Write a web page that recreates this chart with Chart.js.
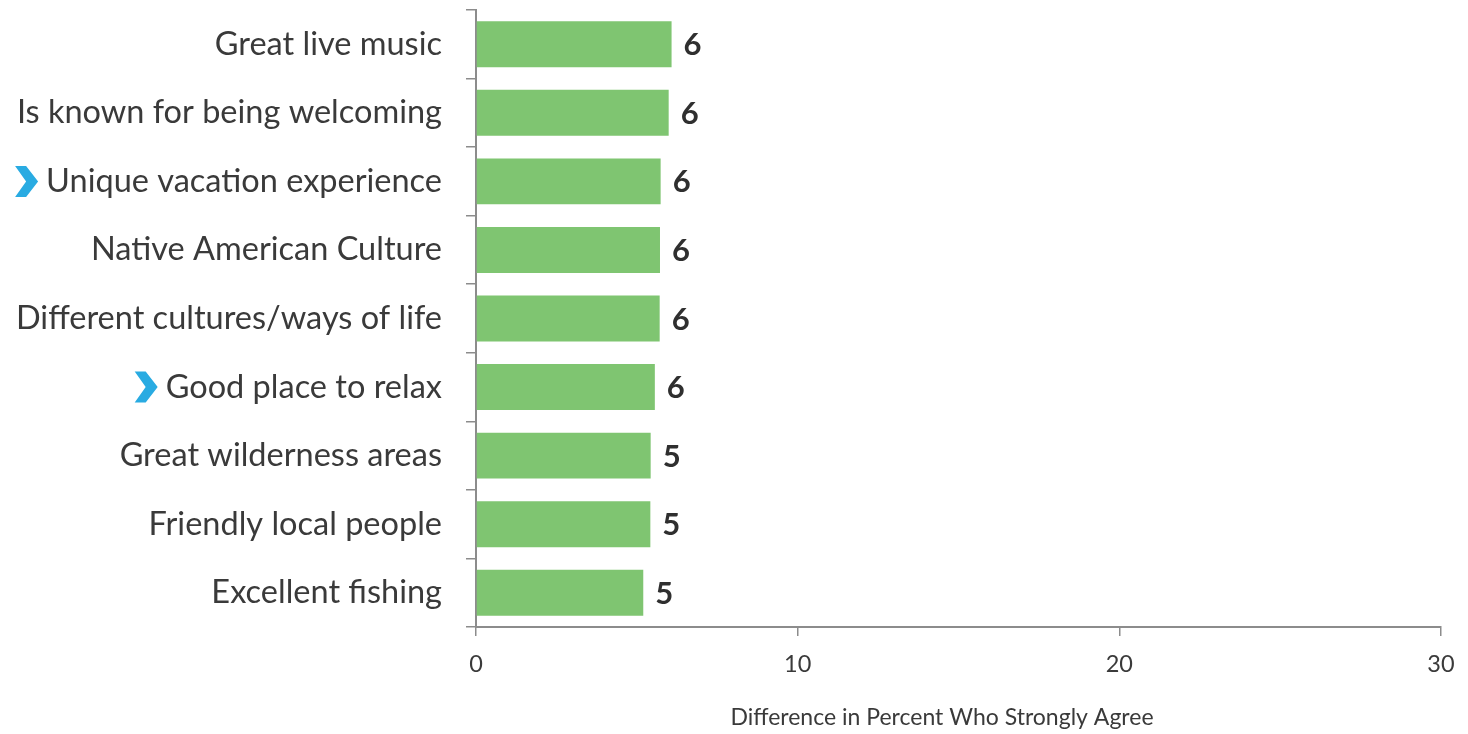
<!DOCTYPE html>
<html>
<head>
<meta charset="utf-8">
<script src="https://cdn.jsdelivr.net/npm/chart.js@4.4.1/dist/chart.umd.min.js"></script>
<style>
  html, body { margin: 0; padding: 0; background: #ffffff; }
  #wrap { width: 1468px; height: 734px; position: relative; }
</style>
</head>
<body>
<div id="wrap"><canvas id="c" width="1468" height="734"></canvas></div>
<script>
const categories = [
  'Great live music',
  'Is known for being welcoming',
  'Unique vacation experience',
  'Native American Culture',
  'Different cultures/ways of life',
  'Good place to relax',
  'Great wilderness areas',
  'Friendly local people',
  'Excellent fishing'
];
const values = [6.08, 5.99, 5.74, 5.72, 5.71, 5.56, 5.43, 5.42, 5.20];
const valueLabels = ['6', '6', '6', '6', '6', '6', '5', '5', '5'];
const highlighted = [false, false, true, false, false, true, false, false, false];
const xTicks = [0, 10, 20, 30];
const axisTitle = 'Difference in Percent Who Strongly Agree';

const FONT = 'Lato, "Open Sans", sans-serif';
const LABEL_SIZE = 32.5;
const AXIS_GRAY = '#8c8c8c';
const TEXT = '#3a3a3a';

const valueLabelPlugin = {
  id: 'valueLabels',
  afterDatasetsDraw(chart) {
    const ctx = chart.ctx;
    const meta = chart.getDatasetMeta(0);
    ctx.save();
    ctx.font = 'bold 31px ' + FONT;
    ctx.fillStyle = '#2f2f2f';
    ctx.textAlign = 'left';
    ctx.textBaseline = 'middle';
    meta.data.forEach((bar, i) => {
      ctx.fillText(valueLabels[i], bar.x + 12, bar.y + 1);
    });
    ctx.restore();
  }
};

const chevronPlugin = {
  id: 'chevrons',
  afterDraw(chart) {
    const ctx = chart.ctx;
    const yScale = chart.scales.y;
    const opts = yScale.options;
    const rightEdge = yScale.right - opts.grid.tickLength - opts.ticks.padding;
    ctx.save();
    ctx.font = LABEL_SIZE + 'px ' + FONT;
    categories.forEach((label, i) => {
      if (!highlighted[i]) return;
      const w = ctx.measureText(label).width;
      const textLeft = rightEdge - w;
      const cy = yScale.getPixelForValue(i);
      const cw = 23, ch = 31;
      const x0 = textLeft - 8 - cw;
      const y0 = cy - ch / 2;
      ctx.fillStyle = '#29abe2';
      ctx.beginPath();
      ctx.moveTo(x0, y0);
      ctx.lineTo(x0 + 11, y0);
      ctx.lineTo(x0 + cw, cy);
      ctx.lineTo(x0 + 11, y0 + ch);
      ctx.lineTo(x0, y0 + ch);
      ctx.lineTo(x0 + 11, cy);
      ctx.closePath();
      ctx.fill();
    });
    ctx.restore();
  }
};

const titlePlugin = {
  id: 'xTitle',
  afterDraw(chart) {
    const ctx = chart.ctx;
    ctx.save();
    ctx.font = '23px ' + FONT;
    ctx.fillStyle = TEXT;
    ctx.textAlign = 'center';
    ctx.textBaseline = 'middle';
    ctx.fillText(axisTitle, 942, 718);
    ctx.restore();
  }
};

new Chart(document.getElementById('c'), {
  type: 'bar',
  data: {
    labels: categories,
    datasets: [{
      data: values,
      backgroundColor: '#7fc571',
      borderWidth: 0,
      barPercentage: 0.67,
      categoryPercentage: 1.0
    }]
  },
  options: {
    indexAxis: 'y',
    responsive: false,
    animation: false,
    devicePixelRatio: 1,
    layout: { padding: { top: 10, right: 27, left: 0, bottom: 0 } },
    plugins: {
      legend: { display: false },
      tooltip: { enabled: false }
    },
    scales: {
      x: {
        min: 0,
        max: 30,
        afterBuildTicks(scale) { scale.ticks = xTicks.map(v => ({ value: v })); },
        ticks: {
          color: TEXT,
          font: { family: FONT, size: 23.5 },
          padding: 14,
          maxRotation: 0
        },
        grid: {
          drawOnChartArea: false,
          drawTicks: true,
          tickLength: 9,
          color: AXIS_GRAY,
          lineWidth: 1.5
        },
        border: { color: AXIS_GRAY, width: 2 },
        afterFit(scale) { scale.height = 107; scale.paddingLeft = 0; scale.paddingRight = 0; }
      },
      y: {
        ticks: {
          color: TEXT,
          font: { family: FONT, size: LABEL_SIZE },
          padding: 24,
          autoSkip: false
        },
        grid: {
          drawOnChartArea: false,
          drawTicks: true,
          tickLength: 10,
          offset: true,
          color: AXIS_GRAY,
          lineWidth: 1.5
        },
        border: { color: AXIS_GRAY, width: 2 },
        afterFit(scale) { scale.width = 476; scale.paddingTop = 0; scale.paddingBottom = 0; }
      }
    }
  },
  plugins: [valueLabelPlugin, chevronPlugin, titlePlugin]
});
</script>
</body>
</html>
